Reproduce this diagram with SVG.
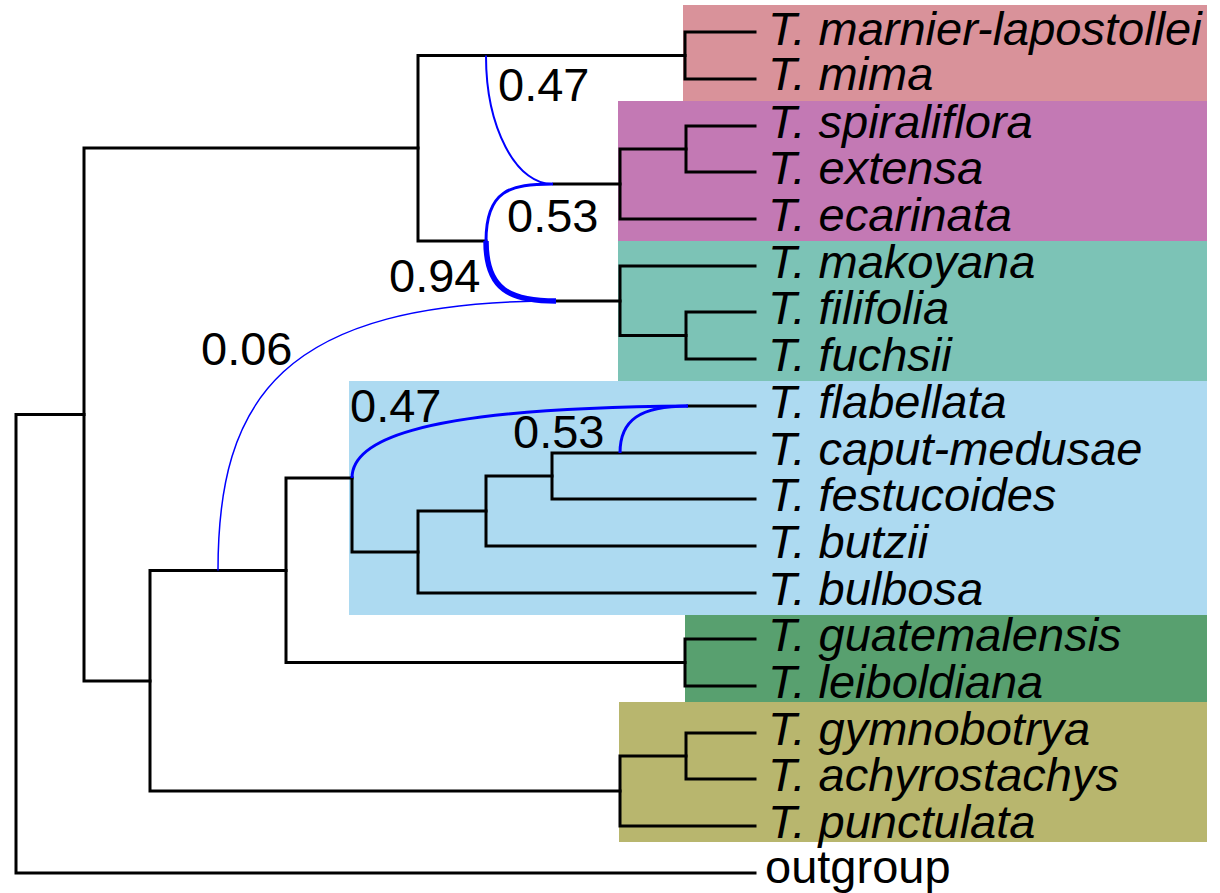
<svg xmlns="http://www.w3.org/2000/svg" width="1220" height="893" viewBox="0 0 1220 893">
  <style>
    .box { stroke: none; }
    .br { fill: none; stroke: #000; stroke-width: 3; stroke-linecap: square; stroke-linejoin: miter; }
    .hyb { fill: none; stroke: #0000ff; stroke-linecap: butt; }
    .tip { font-family: "Liberation Sans", Arial, sans-serif; font-style: italic; font-size: 47px; fill: #000; }
    .out { font-family: "Liberation Sans", Arial, sans-serif; font-size: 47px; fill: #000; }
    .gam { font-family: "Liberation Sans", Arial, sans-serif; font-size: 47px; fill: #000; }
  </style>

  <!-- clade shading -->
  <g id="clades">
    <rect id="clade-pink" class="box" x="683" y="5" width="524" height="96" fill="#d9929a"/>
    <rect id="clade-purple" class="box" x="618" y="101" width="589" height="140" fill="#c379b4"/>
    <rect id="clade-teal" class="box" x="618" y="241" width="589" height="140" fill="#7cc3b6"/>
    <rect id="clade-blue" class="box" x="349" y="381" width="858" height="234" fill="#addaf1"/>
    <rect id="clade-green" class="box" x="685" y="615" width="522" height="87" fill="#58a06f"/>
    <rect id="clade-olive" class="box" x="619" y="702" width="588" height="140" fill="#b8b66e"/>
  </g>

  <!-- tree edges -->
  <g id="edges">
    <!-- root -->
    <path class="br" d="M84,414.5 H16 V873 H755"/>
    <!-- node at x=84 -->
    <path class="br" d="M418,148 H84 V681 H150"/>
    <!-- upper clade -->
    <path class="br" d="M685,55.5 H418 V241 H486"/>
    <path class="br" d="M755,32 H685 V79 H755"/>
    <!-- purple clade -->
    <path class="br" d="M554,184 H620"/>
    <path class="br" d="M686,149 H620 V219 H755"/>
    <path class="br" d="M755,126 H686 V172 H755"/>
    <!-- teal clade -->
    <path class="br" d="M555,301 H620"/>
    <path class="br" d="M755,266 H620 V335.5 H686"/>
    <path class="br" d="M755,312 H686 V359 H755"/>
    <!-- node at x=150 -->
    <path class="br" d="M286,570.5 H150 V791 H620"/>
    <!-- node at x=286 -->
    <path class="br" d="M352,478 H286 V662.5 H685"/>
    <path class="br" d="M755,639 H685 V686 H755"/>
    <!-- blue clade -->
    <path class="br" d="M352,478 V552 H418"/>
    <path class="br" d="M486,511 H418 V593 H755"/>
    <path class="br" d="M552,476 H486 V546 H755"/>
    <path class="br" d="M755,453 H552 V499 H755"/>
    <path class="br" d="M688,406 H755"/>
    <!-- olive clade -->
    <path class="br" d="M686,756 H620 V826 H755"/>
    <path class="br" d="M755,733 H686 V779 H755"/>
  </g>

  <!-- reticulation edges -->
  <g id="hybrid-edges">
    <path class="hyb" stroke-width="2" d="M486,55.5 A66,128 0 0 0 553,184"/>
    <path class="hyb" stroke-width="3" d="M486,241 C486,190 510,184 553,184"/>
    <path class="hyb" stroke-width="5.5" d="M486,241 C486,290 510,301 556,301"/>
    <path class="hyb" stroke-width="1.5" d="M218,570.5 C218,400 280,301 556,301"/>
    <path class="hyb" stroke-width="3" d="M352,478 C352,445 400,408 688,406"/>
    <path class="hyb" stroke-width="3" d="M620,453 C620,420 640,406 688,406"/>
  </g>

  <!-- inheritance probabilities -->
  <g id="gamma-labels">
    <text class="gam" x="498" y="101">0.47</text>
    <text class="gam" x="507" y="232">0.53</text>
    <text class="gam" x="389" y="292">0.94</text>
    <text class="gam" x="201" y="365">0.06</text>
    <text class="gam" x="350" y="422">0.47</text>
    <text class="gam" x="513" y="448">0.53</text>
  </g>

  <!-- taxon labels -->
  <g id="tips">
    <text id="t-marnier" class="tip" x="768" y="44.5">T. marnier-lapostollei</text>
    <text id="t-mima" class="tip" x="768" y="90">T. mima</text>
    <text id="t-spiraliflora" class="tip" x="768" y="137.5">T. spiraliflora</text>
    <text id="t-extensa" class="tip" x="768" y="183.5">T. extensa</text>
    <text id="t-ecarinata" class="tip" x="768" y="230.5">T. ecarinata</text>
    <text id="t-makoyana" class="tip" x="768" y="277.5">T. makoyana</text>
    <text id="t-filifolia" class="tip" x="768" y="323.5">T. filifolia</text>
    <text id="t-fuchsii" class="tip" x="768" y="370.5">T. fuchsii</text>
    <text id="t-flabellata" class="tip" x="768" y="417.5">T. flabellata</text>
    <text id="t-caput" class="tip" x="768" y="464.5">T. caput-medusae</text>
    <text id="t-festucoides" class="tip" x="768" y="510.5">T. festucoides</text>
    <text id="t-butzii" class="tip" x="768" y="557.5">T. butzii</text>
    <text id="t-bulbosa" class="tip" x="768" y="604.5">T. bulbosa</text>
    <text id="t-guatemalensis" class="tip" x="768" y="650.5">T. guatemalensis</text>
    <text id="t-leiboldiana" class="tip" x="768" y="697.5">T. leiboldiana</text>
    <text id="t-gymnobotrya" class="tip" x="768" y="744.5">T. gymnobotrya</text>
    <text id="t-achyrostachys" class="tip" x="768" y="790.5">T. achyrostachys</text>
    <text id="t-punctulata" class="tip" x="768" y="837.5">T. punctulata</text>
    <text id="t-outgroup" class="out" x="765" y="883">outgroup</text>
  </g>
</svg>
